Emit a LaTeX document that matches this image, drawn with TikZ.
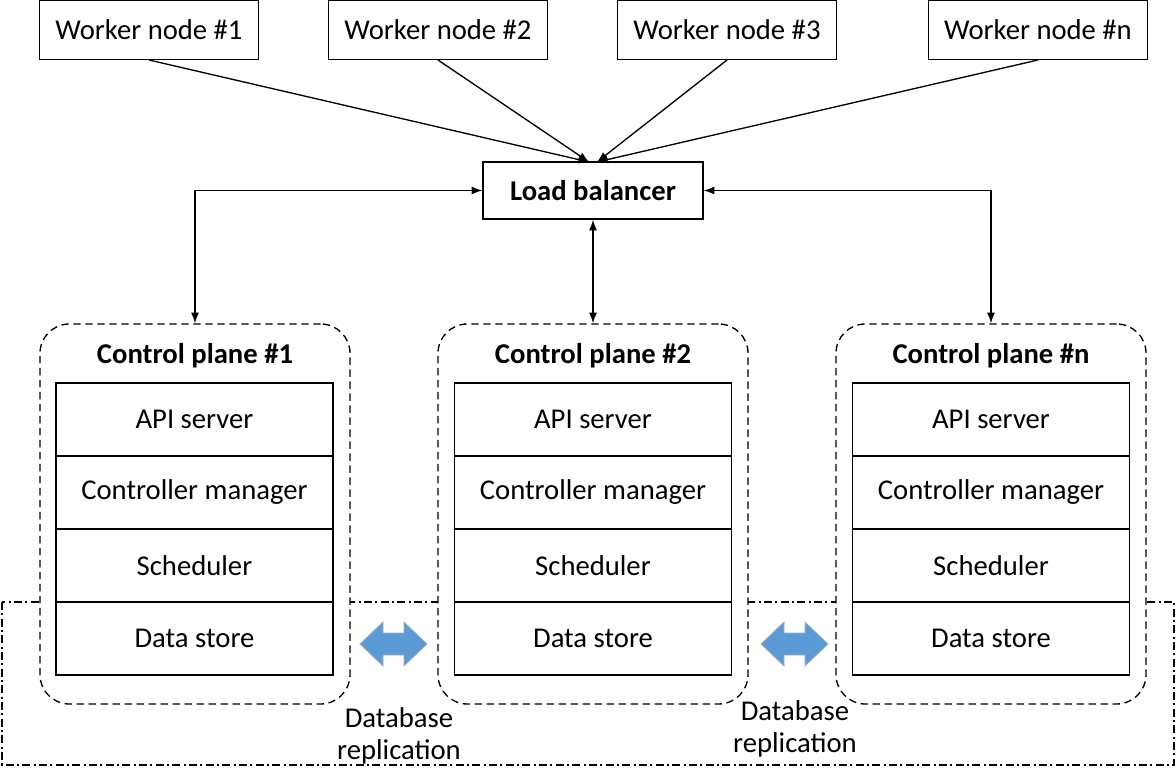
\documentclass[tikz,border=0pt]{standalone}
\usepackage{fontspec}
\setmainfont{Carlito}
\usepackage{tikz}
\usetikzlibrary{arrows.meta}
\tikzset{every picture/.style={line width=1pt}}
\tikzset{
  wbox/.style={draw, fill=white, minimum width=164pt, minimum height=44pt, inner sep=0pt},
  rowbox/.style={draw, fill=white, minimum width=207.75pt, minimum height=54.75pt, inner sep=0pt},
  cpframe/.style={draw, fill=white, dash pattern=on 5.5pt off 3.5pt, rounded corners=22pt, minimum width=232.5pt, minimum height=285pt, inner sep=0pt},
  dbarrow/.style={fill={rgb, 255:red, 91; green, 155; blue, 213}, draw={rgb, 255:red, 160; green, 175; blue, 190}, line width=0.6pt},
  link/.style={{Latex[length=8pt,width=6pt]}-{Latex[length=8pt,width=6pt]}},
  feed/.style={-{Latex[length=8pt,width=6pt]}}
}

\begin{document}
\begin{tikzpicture}[x=0.75pt,y=0.75pt,yscale=-1,xscale=1,font=\fontsize{21.5}{24}\selectfont]
\useasboundingbox (0,0) rectangle (1176,773);

%Shape: Dash-dot Rect
\draw [line width=0.8pt, dash pattern=on 6pt off 2.5pt on 1.5pt off 2.5pt] (2,602) rectangle (1174,765) ;

%Rounded Rect: control planes
\node [cpframe] (cp1) at (195,514) {};
\node [cpframe] (cp2) at (593,514) {};
\node [cpframe] (cp3) at (991,514) {};

% Text Node
\node (cp1t) at (195,356) {\textbf{Control plane \#1}};
\node (cp2t) at (593,356) {\textbf{Control plane \#2}};
\node (cp3t) at (991,356) {\textbf{Control plane \#n}};

%Rects: control plane #1
\node [rowbox] (api1) at (194.5,419.5) {API server};
\node [rowbox] (ctl1) at (194.5,492.5) {Controller manager};
\node [rowbox] (sch1) at (194.5,565.5) {Scheduler};
\node [rowbox] (dat1) at (194.5,638.5) {Data store};
%Rects: control plane #2
\node [rowbox] (api2) at (593,419.5) {API server};
\node [rowbox] (ctl2) at (593,492.5) {Controller manager};
\node [rowbox] (sch2) at (593,565.5) {Scheduler};
\node [rowbox] (dat2) at (593,638.5) {Data store};
%Rects: control plane #n
\node [rowbox] (api3) at (991,419.5) {API server};
\node [rowbox] (ctl3) at (991,492.5) {Controller manager};
\node [rowbox] (sch3) at (991,565.5) {Scheduler};
\node [rowbox] (dat3) at (991,638.5) {Data store};

%Rects: worker nodes
\node [wbox] (w1) at (149,30) {Worker node \#1};
\node [wbox] (w2) at (438,30) {Worker node \#2};
\node [wbox] (w3) at (727,30) {Worker node \#3};
\node [wbox] (wn) at (1038,30) {Worker node \#n};

%Rect: load balancer
\node [draw, fill=white, minimum width=165pt, minimum height=42.75pt, inner sep=0pt] (lb) at (593,190.5) {\textbf{Load balancer}};
\coordinate (lbl) at (589,162);
\coordinate (lbr) at (597,162);

%Straight Lines
\draw [feed] (w1.south) -- (lbl) ;
\draw [feed] (w2.south) -- (lbl) ;
\draw [feed] (w3.south) -- (lbr) ;
\draw [feed] (wn.south) -- (lbr) ;
\draw [link] (lb.west) -| (cp1.north) ;
\draw [link] (lb.south) -- (cp2.north) ;
\draw [link] (lb.east) -| (cp3.north) ;

%Shape: Double Arrows
\draw [dbarrow] (360,644) -- (383,622) -- (383,633) -- (404,633) -- (404,622) -- (427,644) -- (404,666) -- (404,655) -- (383,655) -- (383,666) -- cycle ;
\draw [dbarrow] (761,644) -- (784,622) -- (784,633) -- (805,633) -- (805,622) -- (828,644) -- (805,666) -- (805,655) -- (784,655) -- (784,666) -- cycle ;

% Text Node
\node [align=center] (rep1) at (399,736) {Database\\replication};
% Text Node
\node [align=center] (rep2) at (795,729) {Database\\replication};

\end{tikzpicture}
\end{document}
